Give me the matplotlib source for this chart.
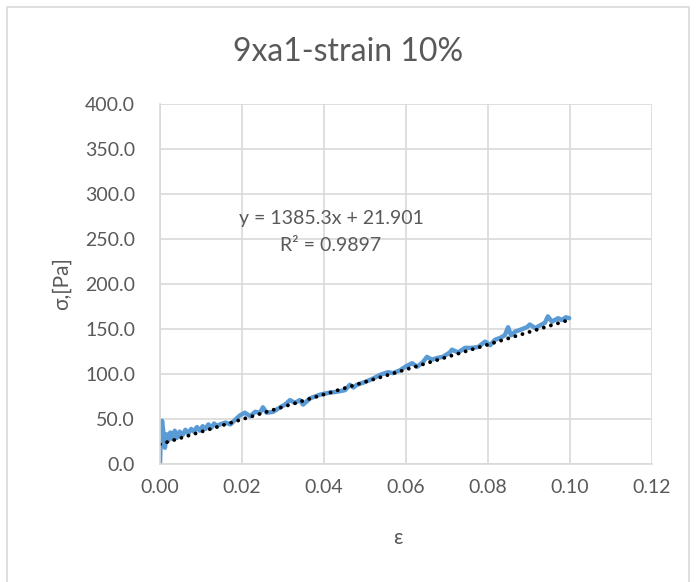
import numpy as np
import matplotlib.pyplot as plt
from matplotlib.patches import Rectangle

plt.rcParams['font.family'] = ['Lato', 'DejaVu Sans']

# strain / stress
strain = [0.0000, 0.0002, 0.0005, 0.0008, 0.0012, 0.0016, 0.0020, 0.0025,
          0.0030, 0.0036, 0.0041, 0.0048, 0.0055, 0.0062, 0.0069, 0.0076,
          0.0083, 0.0090, 0.0097, 0.0104, 0.0111, 0.0118, 0.0125, 0.0132,
          0.0139, 0.0146, 0.0160, 0.0172, 0.0183, 0.0195, 0.0207, 0.0220,
          0.0232, 0.0244, 0.0251, 0.0260, 0.0276, 0.0293, 0.0305, 0.0317,
          0.0329, 0.0341, 0.0349, 0.0366, 0.0378, 0.0390, 0.0410, 0.0427,
          0.0451, 0.0463, 0.0472, 0.0480, 0.0493, 0.0505, 0.0520, 0.0537,
          0.0556, 0.0568, 0.0585, 0.0598, 0.0615, 0.0627, 0.0641, 0.0651,
          0.0663, 0.0678, 0.0690, 0.0707, 0.0712, 0.0727, 0.0744, 0.0761,
          0.0776, 0.0793, 0.0805, 0.0817, 0.0829, 0.0841, 0.0849, 0.0856,
          0.0866, 0.0878, 0.0895, 0.0902, 0.0915, 0.0927, 0.0939, 0.0946,
          0.0956, 0.0963, 0.0971, 0.0980, 0.0990, 0.0998]
stress = [0, 30, 48, 36, 18, 33, 26, 35,
          28, 37, 29, 36, 32, 38, 34, 39,
          36, 41, 37, 42, 39, 44, 40, 45,
          42, 44, 46, 44, 49, 54, 57, 53,
          58, 57, 63, 57, 58, 63, 66, 71,
          68, 71, 66, 73, 75, 77, 79, 80,
          82, 88, 85, 88, 90, 92, 95, 99,
          102, 101, 104, 108, 112, 108, 113, 119,
          116, 118, 119, 124, 127, 124, 129, 129,
          130, 136, 132, 138, 140, 143, 152, 143,
          147, 149, 152, 155, 151, 154, 157, 164,
          158, 160, 162, 160, 163, 162]

# Excel linear trendline
slope = 1385.3
intercept = 21.901
r2 = 0.9897

x_ticks = [0.00, 0.02, 0.04, 0.06, 0.08, 0.10, 0.12]
y_ticks = [0, 50, 100, 150, 200, 250, 300, 350, 400]

fig = plt.figure(figsize=(6.96, 5.82), dpi=100)
fig.patches.append(Rectangle((7 / 696, -0.01), 682 / 696, 1 - 7 / 582 + 0.01,
                             transform=fig.transFigure, fill=False,
                             edgecolor='#d9d9d9', linewidth=1.2))
ax = fig.add_axes([160 / 696, 1 - 464 / 582, 492 / 696, 360 / 582])

ax.plot(strain, stress, color='#5b9bd5', linewidth=3.2,
        solid_joinstyle='round', solid_capstyle='round')
xt = np.array([0.0, 0.1])
ax.plot(xt, slope * xt + intercept, color='black', linewidth=2.8,
        linestyle=(0, (0.01, 1.9)), dash_capstyle='round')

ax.set_xlim(0, 0.12)
ax.set_ylim(0, 400)
ax.set_xticks(x_ticks)
ax.set_yticks(y_ticks)
ax.set_xticklabels([f'{v:.2f}' for v in x_ticks])
ax.set_yticklabels([f'{v:.1f}' for v in y_ticks])
ax.tick_params(length=0, labelsize=14, labelcolor='#595959')
ax.tick_params(axis='y', pad=18)
ax.tick_params(axis='x', pad=11)
ax.grid(True, color='#d9d9d9', linewidth=1.2)
ax.set_axisbelow(True)
for s in ['top', 'right']:
    ax.spines[s].set_visible(False)
for s in ['left', 'bottom']:
    ax.spines[s].set_color('#d9d9d9')
    ax.spines[s].set_linewidth(1.2)

ax.text(0.0417, 258, f'y = {slope}x + {intercept}\nR² = {r2}', ha='center',
        va='center', fontsize=14, color='#595959', linespacing=1.75)

fig.text(348 / 696, 1 - 52 / 582, '9xa1-strain 10%', ha='center', va='center',
         fontsize=23, color='#595959')
fig.text(62 / 696, 1 - 284 / 582, 'σ,[Pa]', ha='center', va='center',
         rotation=90, fontsize=15, color='#595959')
fig.text(398 / 696, 1 - 538 / 582, 'ε', ha='center', va='center',
         fontsize=15, color='#595959')

fig.savefig('out.png', dpi=100)
